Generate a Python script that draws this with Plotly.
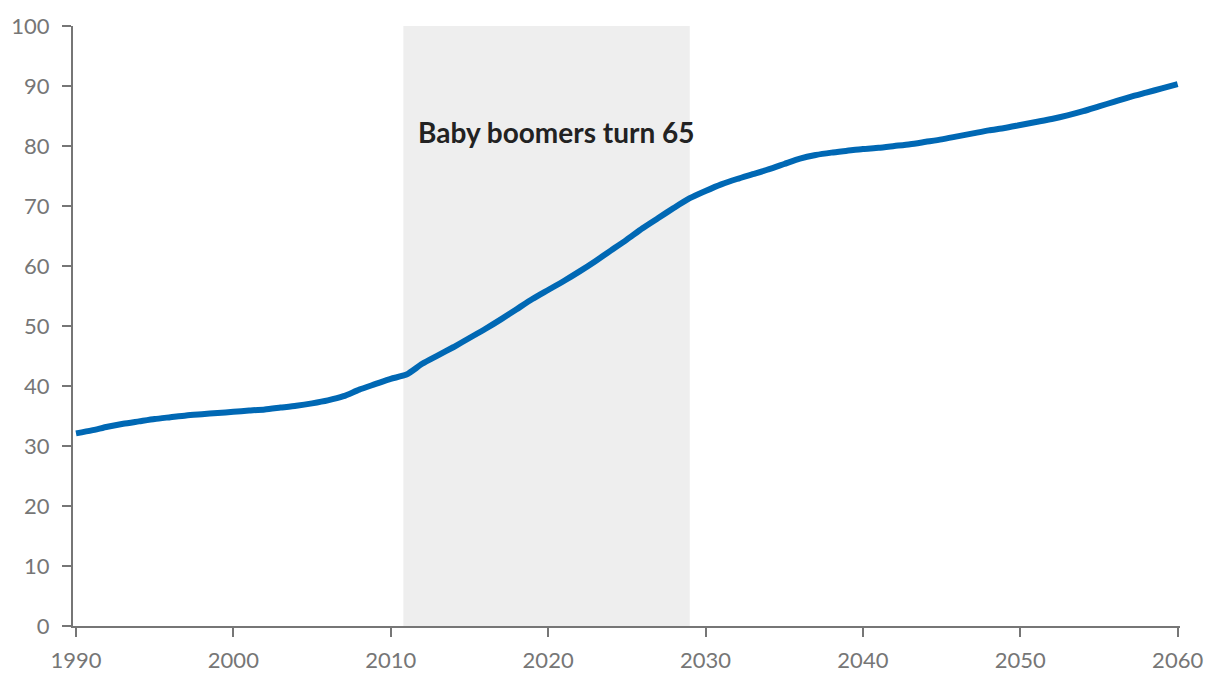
import plotly.graph_objects as go

years = list(range(1990, 2061))
values = [
    32.1, 32.6, 33.2, 33.7, 34.1, 34.5, 34.8, 35.1, 35.3, 35.5,
    35.7, 35.9, 36.1, 36.4, 36.7, 37.1, 37.6, 38.3, 39.4, 40.3,
    41.2, 41.9, 43.7, 45.1, 46.5, 48.0, 49.5, 51.1, 52.8, 54.5,
    56.0, 57.5, 59.1, 60.8, 62.6, 64.4, 66.3, 68.0, 69.7, 71.3,
    72.5, 73.6, 74.5, 75.3, 76.1, 77.0, 77.9, 78.5, 78.9, 79.2,
    79.5, 79.7, 80.0, 80.3, 80.7, 81.1, 81.6, 82.1, 82.6, 83.0,
    83.5, 84.0, 84.5, 85.1, 85.8, 86.6, 87.4, 88.2, 88.9, 89.6,
    90.3,
]
x_ticks = [1990, 2000, 2010, 2020, 2030, 2040, 2050, 2060]
y_ticks = [0, 10, 20, 30, 40, 50, 60, 70, 80, 90, 100]
shade_start, shade_end = 2010.8, 2029.0
annotation_text = "Baby boomers turn 65"

axis_color = "#767676"

fig = go.Figure()
fig.add_shape(type="rect", xref="x", yref="y", x0=shade_start, x1=shade_end,
              y0=0, y1=100, fillcolor="#eeeeee", line=dict(width=0), layer="below")
fig.add_trace(go.Scatter(x=years, y=values, mode="lines",
                         line=dict(color="#0068b4", width=6, shape="spline", smoothing=0.6),
                         hoverinfo="x+y", showlegend=False))
fig.add_annotation(x=2011.6, y=82.3, xref="x", yref="y", text=annotation_text,
                   showarrow=False, xanchor="left", yanchor="middle",
                   font=dict(family="Lato", size=28, color="#222222", weight="bold"))

fig.update_layout(
    width=1220, height=688,
    margin=dict(l=65, r=48, t=18, b=70, autoexpand=False),
    plot_bgcolor="white", paper_bgcolor="white",
    font=dict(family="Lato", size=22, color=axis_color),
)
fig.update_xaxes(range=[1989.81, 2060.15], tickvals=x_ticks, ticks="outside",
                 ticklen=9, tickwidth=2, tickcolor=axis_color, showline=True,
                 linecolor=axis_color, linewidth=2, showgrid=False, zeroline=False,
                 ticklabelstandoff=5,
                 tickfont=dict(family="Lato", size=22, color=axis_color))
fig.update_yaxes(range=[0, 100], tickvals=y_ticks, ticks="outside",
                 ticklen=9, tickwidth=2, tickcolor=axis_color, showline=True,
                 linecolor=axis_color, linewidth=2, showgrid=False, zeroline=False,
                 ticklabelstandoff=8,
                 tickfont=dict(family="Lato", size=22, color=axis_color))

fig.write_html("out.html")
